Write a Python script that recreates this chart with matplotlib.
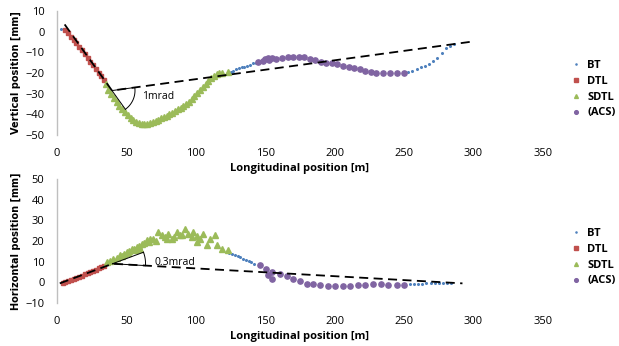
import numpy as np
import matplotlib as mpl
import matplotlib.pyplot as plt

mpl.rcParams['font.family'] = ['Open Sans', 'DejaVu Sans']

# ---- vertical plane (top) ----
v_bt_x = [3, 5, 125, 127, 129, 131, 133, 135, 137, 139, 141, 143,
          253, 256, 259, 262, 265, 268, 271, 274, 277, 280, 283, 286]
v_bt_y = [1.5, 0.8, -19.3, -18.8, -18.3, -17.8, -17.3, -16.9, -16.4, -15.9, -15.4, -15.0,
          -19.5, -18.8, -18.0, -17.3, -16.5, -15.5, -14.0, -12.6, -10.3, -8.0, -6.8, -6.2]

v_dtl_x = [6, 8, 10, 12, 14, 16, 18, 20, 22, 24, 26, 28, 30, 32, 34]
v_dtl_y = [0.8, -0.5, -2.5, -4.0, -5.5, -7.3, -9.0, -11.0, -12.8, -14.5,
           -16.3, -18.0, -19.8, -21.5, -23.3]

v_sdtl_x = [35, 37, 39, 41, 43, 45, 47, 49, 51, 53, 55, 57, 59, 61, 63, 65, 67, 69,
            71, 73, 75, 77, 79, 81, 83, 85, 87, 89, 91, 93, 95, 97, 99, 101, 103,
            105, 107, 109, 111, 113, 115, 117, 119, 123]
v_sdtl_y = [-25.5, -28.0, -30.0, -32.0, -34.0, -35.8, -37.5, -39.0, -40.5, -41.7,
            -42.7, -43.5, -44.1, -44.5, -44.6, -44.5, -44.2, -43.8, -43.3, -42.7,
            -42.0, -41.3, -40.6, -39.9, -39.2, -38.4, -37.6, -36.8, -35.9, -34.9,
            -33.8, -32.6, -31.3, -29.9, -28.4, -26.9, -25.3, -23.8, -22.4, -21.3,
            -20.5, -20.0, -19.8, -19.3]

v_acs_x = [145, 148, 150, 152, 153, 155, 158, 162, 166, 170, 174, 178, 182, 186, 190,
           194, 198, 202, 206, 210, 214, 218, 222, 226, 230, 235, 240, 245, 250]
v_acs_y = [-14.8, -14.0, -13.0, -12.6, -13.5, -12.8, -13.0, -12.8, -12.5, -12.2,
           -12.2, -12.5, -13.0, -13.8, -14.6, -15.0, -15.3, -15.8, -16.4, -17.0,
           -17.6, -18.3, -19.0, -19.6, -20.0, -20.1, -20.1, -20.0, -19.8]

v_fit_x = [5.5, 39.6, 299]
v_fit_y = [3.5, -28.5, -4.8]

# ---- horizontal plane (bottom) ----
h_bt_x = [124, 126, 128, 130, 132, 134, 136, 138, 140, 142,
          254, 257, 260, 263, 266, 269, 272, 275, 278, 281, 284]
h_bt_y = [14.3, 13.8, 13.2, 12.7, 12.1, 11.5, 10.9, 10.3, 9.7, 9.1,
          -0.9, -0.8, -0.7, -0.6, -0.5, -0.4, -0.3, -0.3, -0.2, -0.2, -0.1]

h_dtl_x = [4, 6, 8, 10, 12, 14, 16, 18, 20, 22, 24, 26, 28, 30, 32, 34]
h_dtl_y = [-0.5, 0.0, 0.5, 1.0, 1.6, 2.1, 2.7, 3.2, 3.8, 4.3, 4.9, 5.5, 6.1, 6.7, 7.3, 7.9]

h_sdtl_x = [35.8, 38, 40.5, 43, 45.4, 48, 50.2, 52, 53.8, 55.5, 57.4, 59, 61.0, 63, 64.6,
            67.0, 69.4, 73.0, 75.4, 77.8, 80.2, 82.6, 86.2, 88.6, 92.2, 94.6, 97.0,
            98.2, 100.6, 103.0, 105.4, 107.8, 110.2, 113.8, 115.0, 118.6, 123.3,
            47, 51, 56, 60, 66, 71, 79, 84, 90, 101]
h_sdtl_y = [9.8, 10.5, 11.4, 12.0, 13.0, 13.6, 14.6, 15.2, 16.3, 16.0, 17.1, 17.5, 18.7,
            19.0, 20.3, 21.1, 20.8, 24.3, 22.7, 21.9, 23.5, 21.1, 24.3, 22.7, 25.9, 23.5,
            21.9, 24.3, 19.5, 21.1, 23.5, 17.9, 21.1, 22.7, 17.9, 16.3, 15.5,
            12.8, 14.0, 15.5, 16.2, 19.5, 20.0, 21.0, 22.0, 23.0, 22.5]

h_acs_x = [146.2, 150.5, 152.1, 154.6, 154.6, 160.5, 165.4, 170.1, 175, 179.8, 184.5,
           189.3, 195.3, 200.1, 205.7, 211, 216.5, 221.7, 227.8, 233.3, 238.5, 244.6, 249.8]
h_acs_y = [8.2, 6.6, 3.4, 5.0, 1.8, 4.2, 2.9, 1.8, 0.5, -0.6, -1.0, -1.4, -1.8, -1.8,
           -1.8, -1.6, -1.4, -1.1, -1.0, -1.0, -1.3, -1.4, -1.3]

h_fit_x = [2, 40, 292]
h_fit_y = [-0.5, 9.0, -0.5]

xticks = [0, 50, 100, 150, 200, 250, 300, 350]

C_BT = '#4F81BD'
C_DTL = '#C0504D'
C_SDTL = '#9BBB59'
C_ACS = '#8064A2'


def angle_mark(ax, fx, fy, radius, label, text_xy):
    # thin angle marker at the kink of the fitted line, drawn in pixel space
    to_px = ax.transData
    v = to_px.transform((fx[1], fy[1]))
    a = to_px.transform((fx[0], fy[0]))
    b = to_px.transform((fx[2], fy[2]))
    ang1 = np.arctan2(v[1] - a[1], v[0] - a[0])   # continuation of first line
    ang2 = np.arctan2(b[1] - v[1], b[0] - v[0])   # second line
    t = np.linspace(min(ang1, ang2), max(ang1, ang2), 30)
    arc = np.column_stack([v[0] + radius * np.cos(t), v[1] + radius * np.sin(t)])
    ext = np.array([v, v + radius * np.array([np.cos(ang1), np.sin(ang1)])])
    seg = np.array([v, v + radius * np.array([np.cos(ang2), np.sin(ang2)])])
    inv = to_px.inverted()
    for pts in (arc, ext, seg):
        d = inv.transform(pts)
        ax.plot(d[:, 0], d[:, 1], color='black', lw=0.7, zorder=6)
    ax.text(text_xy[0], text_xy[1], label, fontsize=7.5, ha='left', va='center', zorder=7)


def panel(ax, bt, dtl, sdtl, acs, fit, ylim, yticks, ylabel):
    ax.set_xlim(0, 350)
    ax.set_ylim(*ylim)
    ax.plot(bt[0], bt[1], ls='none', marker='o', ms=1.2, color=C_BT, label='BT', zorder=3)
    ax.plot(dtl[0], dtl[1], ls='none', marker='s', ms=3.5, color=C_DTL, label='DTL', zorder=3)
    ax.plot(sdtl[0], sdtl[1], ls='none', marker='^', ms=4, color=C_SDTL, label='SDTL', zorder=3)
    ax.plot(acs[0], acs[1], ls='none', marker='o', ms=3.8, color=C_ACS, label='(ACS)', zorder=3)
    ax.plot(fit[0], fit[1], color='black', lw=1.3, dashes=(5, 3), zorder=5)
    ax.set_xticks(xticks)
    ax.set_yticks(yticks)
    ax.tick_params(length=0, labelsize=8, pad=9)
    for s in ['top', 'right', 'bottom']:
        ax.spines[s].set_visible(False)
    ax.spines['left'].set_color('#BFBFBF')
    ax.spines['left'].set_linewidth(1.0)
    ax.set_xlabel('Longitudinal position [m]', fontsize=8, fontweight='bold', labelpad=3)
    ax.set_ylabel(ylabel, fontsize=7, fontweight='bold', labelpad=3,
                  family=['Liberation Sans Narrow', 'DejaVu Sans'])


fig = plt.figure(figsize=(6.19, 3.46), dpi=100)
ax1 = fig.add_axes([57 / 619, 1 - 135 / 346, 486 / 619, 124 / 346])
ax2 = fig.add_axes([57 / 619, 1 - 303 / 346, 486 / 619, 124 / 346])

panel(ax1, (v_bt_x, v_bt_y), (v_dtl_x, v_dtl_y), (v_sdtl_x, v_sdtl_y),
      (v_acs_x, v_acs_y), (v_fit_x, v_fit_y), (-50, 10),
      [10, 0, -10, -20, -30, -40, -50], 'Vertical position [mm]')
panel(ax2, (h_bt_x, h_bt_y), (h_dtl_x, h_dtl_y), (h_sdtl_x, h_sdtl_y),
      (h_acs_x, h_acs_y), (h_fit_x, h_fit_y), (-10, 50),
      [50, 40, 30, 20, 10, 0, -10], 'Horizontal position [mm]')

angle_mark(ax1, v_fit_x, v_fit_y, 23, '1mrad', (61.5, -31.4))
angle_mark(ax2, h_fit_x, h_fit_y, 33, '0.3mrad', (70.5, 9.4))

for ax, yc in ((ax1, 1 - 89 / 346), (ax2, 1 - 257 / 346)):
    ax.legend(loc='center left', bbox_to_anchor=(566 / 619, yc), bbox_transform=fig.transFigure,
              frameon=False, handlelength=0.8, handletextpad=0.6,
              labelspacing=0.45, markerscale=0.7, borderpad=0,
              prop={'size': 8, 'weight': 'bold'})

fig.savefig('out.png', dpi=100)
